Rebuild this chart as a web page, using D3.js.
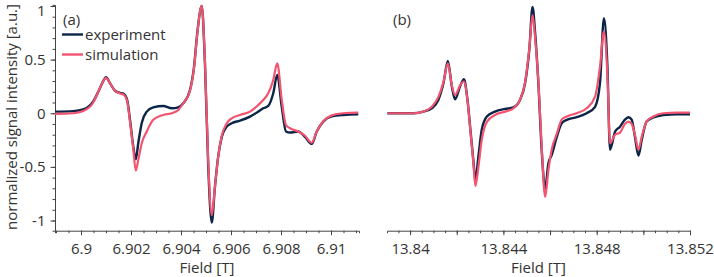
<!DOCTYPE html>
<html>
<head>
<meta charset="utf-8">
<script src="https://cdn.jsdelivr.net/npm/d3@7"></script>
<style>
  body { margin: 0; background: #fff; }
  svg { display: block; font-family: "Open Sans", sans-serif; }
  .axis path, .axis line { stroke: #444; }
  .axis text { fill: #333; font-size: 15px; font-family: "Open Sans", sans-serif; }
</style>
</head>
<body>
<svg id="chart" width="714" height="277"></svg>
<script>
// panel (a), field in T
const fieldA = [6.89896, 6.89969, 6.90009, 6.90049, 6.90069, 6.90089, 6.901, 6.90116, 6.90136, 6.90156,
  6.90172, 6.90185, 6.90196, 6.90209, 6.90219, 6.90229, 6.90243, 6.90263, 6.90289, 6.90329,
  6.90363, 6.90389, 6.90409, 6.90436, 6.90452, 6.90465, 6.90483, 6.90496, 6.90509, 6.90523,
  6.90536, 6.90549, 6.90563, 6.90583, 6.90603, 6.90636, 6.90676, 6.90709, 6.90729, 6.90749,
  6.90769, 6.90785, 6.90803, 6.9082, 6.90836, 6.90869, 6.90896, 6.90923, 6.90943, 6.90969,
  6.91003, 6.91049, 6.91109]
const expA = [0.015, 0.02, 0.035, 0.11, 0.2, 0.3, 0.335, 0.28, 0.21, 0.19,
  0.18, 0.12, -0.06, -0.31, -0.43, -0.28, -0.09, 0.015, 0.055, 0.068,
  0.046, 0.055, 0.093, 0.217, 0.43, 0.745, 1.0, 0.45, -0.5, -1.02,
  -0.68, -0.4, -0.22, -0.125, -0.093, -0.069, -0.031, 0.015, 0.046, 0.068,
  0.186, 0.357, 0.06, -0.17, -0.18, -0.17, -0.22, -0.286, -0.17, -0.078,
  -0.03, -0.016, -0.01]
const simA = [-0.006, 0.0, 0.02, 0.1, 0.2, 0.3, 0.33, 0.28, 0.21, 0.185,
  0.17, 0.11, -0.08, -0.33, -0.535, -0.435, -0.28, -0.17, -0.06, -0.016,
  0.0, 0.03, 0.093, 0.21, 0.42, 0.74, 1.0, 0.47, -0.45, -0.95,
  -0.68, -0.4, -0.21, -0.093, -0.047, -0.016, 0.015, 0.077, 0.124, 0.186,
  0.31, 0.466, 0.124, -0.11, -0.14, -0.17, -0.21, -0.275, -0.17, -0.075,
  -0.02, 0.0, 0.005]

// panel (b)
const fieldB = [13.83903, 13.84014, 13.84057, 13.84093, 13.84121, 13.84143, 13.84162, 13.84179, 13.84193, 13.84214,
  13.84231, 13.84246, 13.8426, 13.84271, 13.8428, 13.84293, 13.84307, 13.84329, 13.84364, 13.84407,
  13.84443, 13.84471, 13.84493, 13.84511, 13.84525, 13.84536, 13.8455, 13.84564, 13.84579, 13.84593,
  13.84607, 13.84629, 13.8465, 13.84672, 13.84714, 13.84757, 13.84793, 13.84814, 13.84831, 13.84846,
  13.84857, 13.84879, 13.849, 13.84921, 13.84936, 13.8495, 13.84964, 13.84979, 13.84993, 13.85014,
  13.85043, 13.85086, 13.85143, 13.852]
const expB = [0.0, 0.0, 0.015, 0.046, 0.124, 0.28, 0.487, 0.25, 0.13, 0.25,
  0.317, 0.124, -0.186, -0.435, -0.62, -0.4, -0.155, -0.03, 0.015, 0.04,
  0.055, 0.124, 0.28, 0.59, 0.99, 0.75, 0.28, -0.34, -0.7, -0.466,
  -0.39, -0.22, -0.093, -0.062, -0.037, 0.0, 0.06, 0.28, 0.885, 0.43,
  -0.34, -0.17, -0.125, -0.06, -0.037, -0.06, -0.22, -0.395, -0.25, -0.078,
  -0.04, -0.016, -0.01, -0.01]
const simB = [0.0, 0.0, 0.015, 0.06, 0.15, 0.29, 0.466, 0.26, 0.17, 0.26,
  0.296, 0.12, -0.2, -0.45, -0.68, -0.5, -0.25, -0.08, -0.016, 0.015,
  0.046, 0.124, 0.29, 0.6, 0.916, 0.7, 0.3, -0.3, -0.78, -0.53,
  -0.34, -0.19, -0.06, -0.03, 0.0, 0.046, 0.155, 0.43, 0.76, 0.35,
  -0.28, -0.2, -0.18, -0.1, -0.078, -0.1, -0.2, -0.34, -0.22, -0.078,
  -0.03, 0.0, 0.005, 0.005]

const yTicks = [-1, -0.5, 0, 0.5, 1]
const ticksA = [6.9, 6.902, 6.904, 6.906, 6.908, 6.91]
const labelsA = ticksA
const ticksB = [13.84, 13.842, 13.844, 13.846, 13.848, 13.85, 13.852]
const labelsB = [13.84, 13.844, 13.848, 13.852]

const colExp = "#0b2447", colSim = "#f25470"
const fontSize = "15px"

const svg = d3.select("#chart")

const y = d3.scaleLinear().domain([-1.095, 1.01]).range([230.7, 4.9])

const panels = [
  {field: fieldA, exp: expA, sim: simA, ticks: ticksA, labels: labelsA,
   x: d3.scaleLinear().domain([6.89896, 6.91112]).range([55, 359]), tag: "(a)", yAxis: true},
  {field: fieldB, exp: expB, sim: simB, ticks: ticksB, labels: labelsB,
   x: d3.scaleLinear().domain([13.83901, 13.852]).range([387, 690]), tag: "(b)", yAxis: false}
]

const fmt = d => String(+d.toFixed(3))

panels.forEach(p => {
  const x = p.x
  const [x0, x1] = x.domain()

  // minor ticks every 0.0005
  const minor = d3.range(Math.ceil(x0 / 0.0005), Math.floor(x1 / 0.0005) + 1).map(i => i * 0.0005)
  svg.append("g").attr("class", "axis")
    .attr("transform", "translate(0,230.7)")
    .call(d3.axisBottom(x).tickValues(minor).tickSize(2.5).tickFormat(""))

  const major = svg.append("g").attr("class", "axis")
    .attr("transform", "translate(0,230.7)")
    .call(d3.axisBottom(x).tickValues(p.ticks).tickSize(4.5).tickSizeOuter(0).tickPadding(8)
      .tickFormat(d => p.labels.some(l => Math.abs(l - d) < 1e-9) ? fmt(d) : ""))
  major.select(".domain").remove()

  svg.append("text")
    .attr("x", (x.range()[0] + x.range()[1]) / 2)
    .attr("y", 272.5)
    .attr("text-anchor", "middle")
    .attr("fill", "#333")
    .style("font-size", fontSize)
    .text("Field [T]")

  if (p.yAxis) {
    const minorY = d3.range(-10, 11).map(i => i / 10)
    svg.append("g").attr("class", "axis")
      .attr("transform", "translate(55,0)")
      .call(d3.axisLeft(y).tickValues(minorY).tickSize(2.5).tickFormat(""))
    const my = svg.append("g").attr("class", "axis")
      .attr("transform", "translate(55,0)")
      .call(d3.axisLeft(y).tickValues(yTicks).tickSize(4.5).tickPadding(5).tickFormat(d => d))
    my.select(".domain").remove()
    // keep the top label inside the picture
    my.selectAll(".tick text").filter(d => d === 1).attr("dy", "0.62em")
  }

  const line = vals => d3.line()
    .x((d, i) => x(p.field[i]))
    .y(d => y(d))
    .curve(d3.curveMonotoneX)(vals)

  svg.append("path").attr("d", line(p.exp))
    .attr("fill", "none").attr("stroke", colExp).attr("stroke-width", 2.4)
  svg.append("path").attr("d", line(p.sim))
    .attr("fill", "none").attr("stroke", colSim).attr("stroke-width", 2.2)

  svg.append("text")
    .attr("x", x.range()[0] + (p.yAxis ? 8 : 6))
    .attr("y", 25)
    .attr("fill", "#333")
    .style("font-size", fontSize)
    .text(p.tag)
})

// legend
const legend = [{name: "experiment", color: colExp}, {name: "simulation", color: colSim}]
legend.forEach((l, i) => {
  const ly = 34.5 + i * 20
  svg.append("line").attr("x1", 62).attr("x2", 83).attr("y1", ly).attr("y2", ly)
    .attr("stroke", l.color).attr("stroke-width", 2.4)
  svg.append("text").attr("x", 85).attr("y", ly + 5.5)
    .attr("fill", "#333").style("font-size", fontSize).text(l.name)
})

// y title
svg.append("text")
  .attr("transform", "translate(17,117) rotate(-90)")
  .attr("text-anchor", "middle")
  .attr("fill", "#333")
  .style("font-size", fontSize)
  .text("normalized signal intensity [a.u.]")
</script>
</body>
</html>
